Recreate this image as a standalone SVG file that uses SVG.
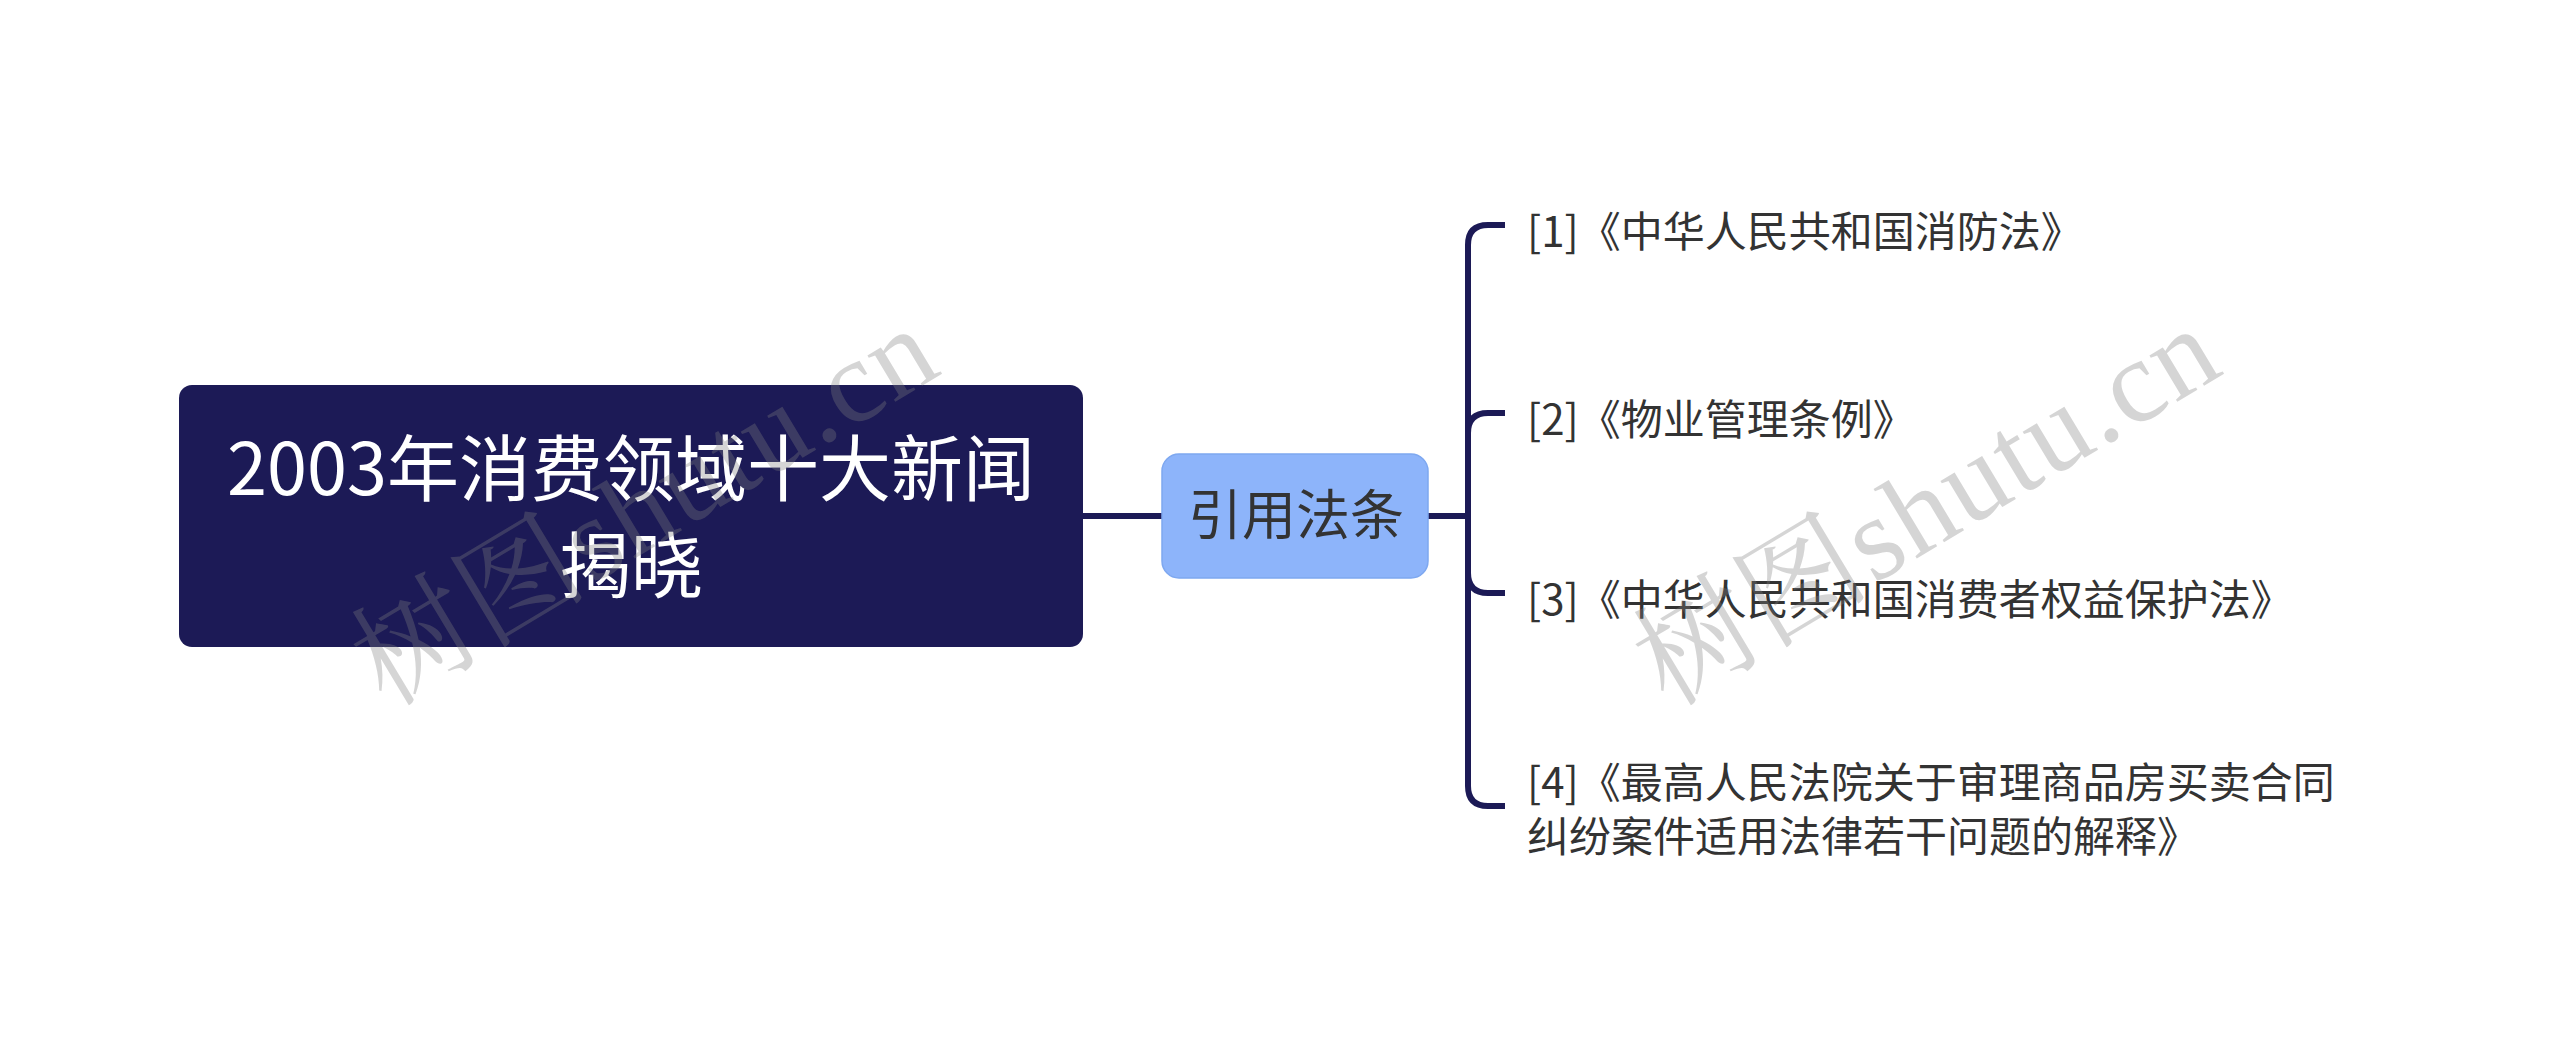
<svg xmlns="http://www.w3.org/2000/svg" width="2560" height="1060" viewBox="0 0 2560 1060">
<style>
.t{font-family:"Noto Sans CJK SC","Noto Sans",sans-serif;}
.root-box{fill:#1c1a56;}
.root-txt{fill:#ffffff;font-size:72px;text-anchor:middle;}
.mid-box{fill:#8db4fa;stroke:#7ea8f0;stroke-width:1.5;}
.mid-txt{fill:#333333;font-size:54px;text-anchor:middle;}
.leaf-txt{fill:#333333;font-size:42px;}
.conn{fill:none;stroke:#1c1a56;stroke-width:6;}
.wm{font-family:"Liberation Serif","Noto Serif CJK SC","Noto Sans CJK SC",serif;font-size:118px;letter-spacing:2px;fill:#808080;fill-opacity:0.33;}
</style>
<rect width="2560" height="1060" fill="#ffffff"/>
<g id="connectors">
<path class="conn" d="M1083,516 H1162"/>
<path class="conn" d="M1428,516 H1468"/>
<path class="conn" d="M1468,516 V245 Q1468,225 1488,225 H1505"/>
<path class="conn" d="M1468,516 V433 Q1468,413 1488,413 H1505"/>
<path class="conn" d="M1468,516 V573 Q1468,593 1488,593 H1505"/>
<path class="conn" d="M1468,516 V786 Q1468,806 1488,806 H1505"/>
</g>
<g id="root">
<rect class="root-box" x="179" y="385" width="904" height="262" rx="13"/>
<text class="t root-txt" x="631" y="495">2003年消费领域十大新闻</text>
<text class="t root-txt" x="631" y="592">揭晓</text>
</g>
<g id="mid">
<rect class="mid-box" x="1162" y="454" width="266" height="124" rx="17"/>
<text class="t mid-txt" x="1296" y="535">引用法条</text>
</g>
<g id="leaf1">
<text class="t leaf-txt" x="1527" y="247">[1]《中华人民共和国消防法》</text>
</g>
<g id="leaf2">
<text class="t leaf-txt" x="1527" y="435">[2]《物业管理条例》</text>
</g>
<g id="leaf3">
<text class="t leaf-txt" x="1527" y="615">[3]《中华人民共和国消费者权益保护法》</text>
</g>
<g id="leaf4">
<text class="t leaf-txt" x="1527" y="798">[4]《最高人民法院关于审理商品房买卖合同</text>
<text class="t leaf-txt" x="1527" y="852">纠纷案件适用法律若干问题的解释》</text>
</g>
<g id="watermarks">
<text class="wm" transform="translate(386,708) rotate(-31)">树图shutu.cn</text>
<text class="wm" transform="translate(1668,708) rotate(-31)">树图shutu.cn</text>
</g>
</svg>
